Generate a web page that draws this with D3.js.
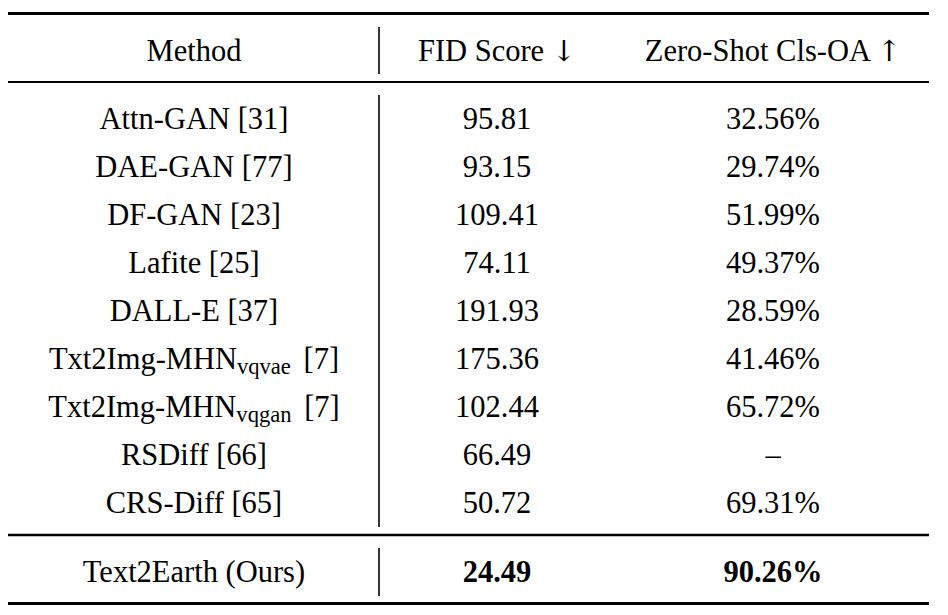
<!DOCTYPE html>
<html>
<head>
<meta charset="utf-8">
<script src="https://cdn.jsdelivr.net/npm/d3@7"></script>
<style>
  html, body { margin: 0; padding: 0; background: #fff; }
  svg { display: block; }
  text { font-family: "Liberation Serif", "Times New Roman", serif; fill: #000; }
</style>
</head>
<body>
<svg id="chart" width="948" height="615"></svg>
<script>
// ---- data ----
const headerLabels = ["Method", "FID Score", "Zero-Shot Cls-OA"];
const headerArrows = ["", "\u2193", "\u2191"];
const methodNames = ["Attn-GAN", "DAE-GAN", "DF-GAN", "Lafite", "DALL-E", "Txt2Img-MHN", "Txt2Img-MHN", "RSDiff", "CRS-Diff"];
const methodSubs  = ["", "", "", "", "", "vqvae", "vqgan", "", ""];
const methodRefs  = ["[31]", "[77]", "[23]", "[25]", "[37]", "[7]", "[7]", "[66]", "[65]"];
const fidScores   = ["95.81", "93.15", "109.41", "74.11", "191.93", "175.36", "102.44", "66.49", "50.72"];
const oaScores    = ["32.56%", "29.74%", "51.99%", "49.37%", "28.59%", "41.46%", "65.72%", "\u2013", "69.31%"];
const oursName = "Text2Earth (Ours)";
const oursFid  = "24.49";
const oursOa   = "90.26%";

// ---- layout ----
const svg = d3.select("#chart");
const fontSize = 30.5;
const left = 8, right = 929, divX = 379;
const cols = ["method", "fid", "oa"];

const colX = d3.scaleOrdinal().domain(cols).range([194, 497, 773]);
const rowY = d3.scalePoint().domain(d3.range(methodNames.length)).range([129, 513]);

// rules
const rules = [
  {y: 13.5, w: 3},
  {y: 82, w: 2},
  {y: 535, w: 2.5},
  {y: 603.5, w: 3}
];
svg.selectAll("line.rule").data(rules).join("line")
  .attr("class", "rule")
  .attr("x1", left).attr("x2", right)
  .attr("y1", d => d.y).attr("y2", d => d.y)
  .attr("stroke", "#000").attr("stroke-width", d => d.w);

// vertical separators
const vsegs = [[27, 74], [95, 527], [548, 596]];
svg.selectAll("line.vsep").data(vsegs).join("line")
  .attr("class", "vsep")
  .attr("x1", divX).attr("x2", divX)
  .attr("y1", d => d[0]).attr("y2", d => d[1])
  .attr("stroke", "#000").attr("stroke-width", 1.6);

// header
const hdr = svg.selectAll("text.hdr").data(headerLabels).join("text")
  .attr("class", "hdr")
  .attr("x", (d, i) => colX(cols[i]))
  .attr("y", 61)
  .attr("text-anchor", "middle")
  .attr("font-size", fontSize);
hdr.each(function(d, i) {
  const t = d3.select(this);
  t.append("tspan").text(d);
  if (headerArrows[i]) {
    t.append("tspan").text(" ");
    t.append("tspan").attr("font-family", "DejaVu Serif").attr("font-size", fontSize * 0.95)
      .text(headerArrows[i]);
  }
});

// body rows
const rows = methodNames.map((n, i) => ({name: n, sub: methodSubs[i], ref: methodRefs[i], fid: fidScores[i], oa: oaScores[i], i}));

const mText = svg.selectAll("text.method").data(rows).join("text")
  .attr("class", "method")
  .attr("x", colX("method"))
  .attr("y", d => rowY(d.i))
  .attr("text-anchor", "middle")
  .attr("font-size", fontSize);
mText.each(function(d) {
  const t = d3.select(this);
  t.append("tspan").text(d.name);
  if (d.sub) {
    t.append("tspan").attr("font-size", fontSize * 0.74).attr("dy", 5).text(d.sub);
    t.append("tspan").attr("dy", -5).attr("dx", 5).text("\u00a0" + d.ref);
  } else {
    t.append("tspan").text(" " + d.ref);
  }
});

svg.selectAll("text.fid").data(rows).join("text")
  .attr("class", "fid")
  .attr("x", colX("fid"))
  .attr("y", d => rowY(d.i))
  .attr("text-anchor", "middle")
  .attr("font-size", fontSize)
  .text(d => d.fid);

svg.selectAll("text.oa").data(rows).join("text")
  .attr("class", "oa")
  .attr("x", colX("oa"))
  .attr("y", d => rowY(d.i))
  .attr("text-anchor", "middle")
  .attr("font-size", fontSize)
  .text(d => d.oa);

// ours row
const oursY = 582;
svg.append("text").attr("x", colX("method")).attr("y", oursY)
  .attr("text-anchor", "middle").attr("font-size", fontSize).text(oursName);
svg.append("text").attr("x", colX("fid")).attr("y", oursY)
  .attr("text-anchor", "middle").attr("font-size", fontSize).attr("font-weight", "bold").text(oursFid);
svg.append("text").attr("x", colX("oa")).attr("y", oursY)
  .attr("text-anchor", "middle").attr("font-size", fontSize).attr("font-weight", "bold").text(oursOa);
</script>
</body>
</html>
